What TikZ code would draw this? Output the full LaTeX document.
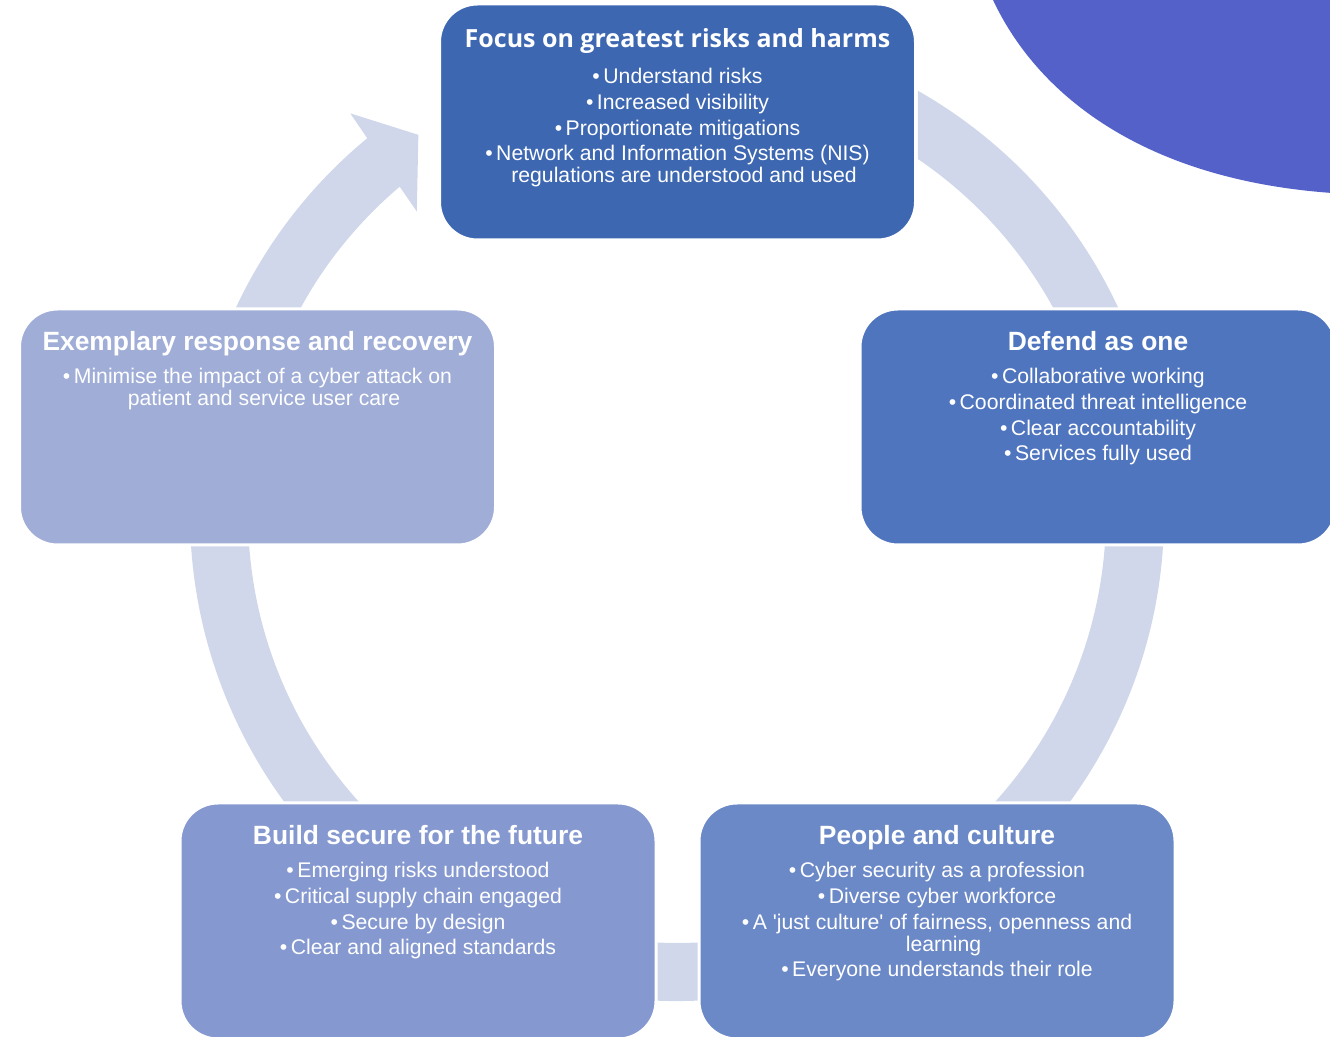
\documentclass[tikz,border=0pt]{standalone}
\usepackage{fontspec}
\setmainfont{Liberation Sans}
\newfontfamily\headfont{Open Sans}
\usetikzlibrary{positioning}

\definecolor{focusblue}{HTML}{3D67B1}
\definecolor{defendblue}{HTML}{4F75BF}
\definecolor{peopleblue}{HTML}{6B88C7}
\definecolor{buildblue}{HTML}{8599D0}
\definecolor{recoverblue}{HTML}{9FADD7}
\definecolor{ringblue}{HTML}{D0D7EB}
\definecolor{cornerblue}{HTML}{5361C8}

\newcommand{\wrapindent}{\hspace*{13pt}}

\begin{document}
\begin{tikzpicture}[x=1pt, y=1pt,
    pillar/.style={rectangle, rounded corners=38pt, draw=white, line width=3pt,
      minimum width=476pt, minimum height=236pt, inner sep=0pt},
    blurb/.style={text=white, align=center, inner sep=0pt,
      font=\fontsize{21.2}{22}\selectfont}]
    \clip (0,0) rectangle (1330,1036);

    % Corner shape
    \fill[cornerblue] (993,1036) .. controls (1040,936) and (1150,856) .. (1332,843)
        -- (1332,1036) -- cycle;

    % Ring, ending in the arrow into the top box
    \coordinate (hub) at (677,522);
    \fill[ringblue] ([shift={(60.34:487)}]hub)
        arc[start angle=60.34, end angle=-230.5, radius=487]
        -- ([shift={(129.2:517)}]hub) -- ([shift={(124.3:459)}]hub)
        -- ([shift={(130.7:399)}]hub) -- ([shift={(130.27:429)}]hub)
        arc[start angle=-229.73, end angle=55.83, radius=429] -- cycle;

    % Nodes
    \node[pillar, fill=focusblue] (focus) at (677.5,914) {};
    \node[pillar, fill=defendblue] (defend) at (1098,609) {};
    \node[pillar, fill=peopleblue] (people) at (937,115) {};
    \node[pillar, fill=buildblue] (build) at (418,115) {};
    \node[pillar, fill=recoverblue] (recover) at (257.5,609) {};

    % Texts
    \node[blurb, below=26pt of focus.north] (focustext)
        {{\headfont\fontsize{25}{28}\selectfont\bfseries Focus on greatest risks and harms}\\[14pt]
         •\,Understand risks\\[3.7pt]
         •\,Increased visibility\\[3.7pt]
         •\,Proportionate mitigations\\[3.7pt]
         •\,Network and Information Systems (NIS)\\
         \wrapindent regulations are understood and used};
    \node[blurb, below=24pt of defend.north] (defendtext)
        {{\fontsize{26.4}{30}\selectfont\bfseries Defend as one}\\[11pt]
         •\,Collaborative working\\[3.7pt]
         •\,Coordinated threat intelligence\\[3.7pt]
         •\,Clear accountability\\[3.7pt]
         •\,Services fully used};
    \node[blurb, below=24pt of people.north] (peopletext)
        {{\fontsize{26.4}{30}\selectfont\bfseries People and culture}\\[11pt]
         •\,Cyber security as a profession\\[3.7pt]
         •\,Diverse cyber workforce\\[3.7pt]
         •\,A \textquotesingle just culture\textquotesingle\ of fairness, openness and\\
         \wrapindent learning\\[3.7pt]
         •\,Everyone understands their role};
    \node[blurb, below=24pt of build.north] (buildtext)
        {{\fontsize{26.4}{30}\selectfont\bfseries Build secure for the future}\\[11pt]
         •\,Emerging risks understood\\[3.7pt]
         •\,Critical supply chain engaged\\[3.7pt]
         •\,Secure by design\\[3.7pt]
         •\,Clear and aligned standards};
    \node[blurb, below=24pt of recover.north] (recovertext)
        {{\fontsize{26.4}{30}\selectfont\bfseries Exemplary response and recovery}\\[11pt]
         •\,Minimise the impact of a cyber attack on\\
         \wrapindent patient and service user care};
\end{tikzpicture}
\end{document}
